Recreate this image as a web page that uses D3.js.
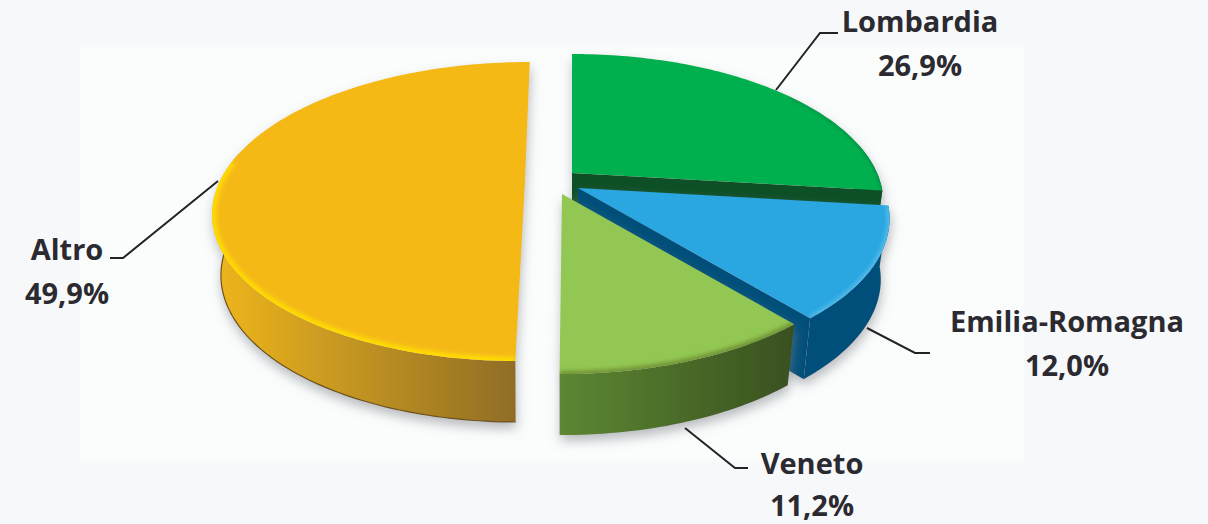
<!DOCTYPE html>
<html><head><meta charset="utf-8">
<script src="https://cdn.jsdelivr.net/npm/d3@7"></script>
<style>html,body{margin:0;padding:0;background:#f7f8fa;overflow:hidden}svg{display:block}
text{font-family:"Open Sans",Lato,sans-serif;font-weight:700;font-size:29px;fill:#2b2a30;text-anchor:middle}</style>
</head><body><svg id="c" width="1208" height="524"></svg>
<script>
const categories = ["Lombardia","Emilia-Romagna","Veneto","Altro"];
const shares = [26.9,12.0,11.2,49.9];
const shareLabels = ["26,9%","12,0%","11,2%","49,9%"];

const svg=d3.select("#c");
const defs=svg.append("defs");
// layout of the exploded slices
const centers=[{x:572,y:173,tilt:0},{x:578,y:188,tilt:0},{x:562,y:194,tilt:0},{x:525,y:181,tilt:5.75}];
const rx=305, ry=143.3, persp=0.204, depth=61, shrink=0.972;
const style=[
 {top:"#00b04f",wall:"#0a4f25",side:["#0a4f25","#0a4f25"],rim:"#0a7a3c",rimW:2,rimFrom:0.6},
 {top:"#29a6e0",wall:"#00507a",side:["#00507a","#00507a"],rim:"#58bdea",rimW:5,rimFrom:1},
 {top:"#92c753",wall:"#3e5a20",side:["#5d8733","#39501f"],rim:"#6f8f35",rimW:6,rimFrom:1},
 {top:"#f5b918",wall:"#8f6b25",side:["#efb61d","#8b6a26"],rim:"#ffdd00",rimW:8,rimFrom:0.15}
];
const leaders=[
 [[776,90],[820,33],[838,33]],
 [[867,328],[915,353],[930,353]],
 [[685,428],[735,468],[748,468]],
 [[218,181],[123,258],[110,258]]
];
const labelPos=[{x:920,y:32,gap:44},{x:1067,y:332,gap:44},{x:812,y:474,gap:42},{x:67,y:260,gap:44}];

// background panel
const f0=defs.append("filter").attr("id","soft").attr("x","-5%").attr("y","-5%").attr("width","110%").attr("height","110%");
f0.append("feGaussianBlur").attr("stdDeviation",1);
svg.append("rect").attr("x",80).attr("y",45).attr("width",944).attr("height",416).attr("fill","#fbfdfd").attr("filter","url(#soft)");

const sh=defs.append("filter").attr("id","shadow").attr("x","-15%").attr("y","-15%").attr("width","130%").attr("height","130%");
sh.append("feDropShadow").attr("dx",1).attr("dy",6).attr("stdDeviation",6).attr("flood-color","#7f8488").attr("flood-opacity",0.55);
const bl=defs.append("filter").attr("id","rimblur").attr("x","-10%").attr("y","-10%").attr("width","120%").attr("height","120%");
bl.append("feGaussianBlur").attr("stdDeviation",2);

const pie=d3.pie().sort(null).value(d=>d);
const arcs=pie(shares);
const line=d3.line();

function project(c,t,k=1,dy=0){
  const X=Math.sin(t),Z=Math.cos(t),w=1+persp*Z;
  return [c.x+(rx*X/w+c.tilt*Z/w)*k, c.y-ry*Z/w+dy];
}
function samples(a){
  const n=Math.max(8,Math.ceil((a.endAngle-a.startAngle)/0.02));
  return d3.range(n+1).map(i=>a.startAngle+(a.endAngle-a.startAngle)*i/n);
}

arcs.forEach((a,i)=>{
  const c=centers[i],s=style[i],ts=samples(a);
  const g=svg.append("g").attr("filter","url(#shadow)");
  const gid="sideGrad"+i;
  const topArc=ts.map(t=>project(c,t));
  const sideTs=ts.filter(t=>Math.cos(t)<0.2);
  const sideTop=sideTs.map(t=>project(c,t));
  const sideBot=sideTs.map(t=>project(c,t,shrink,depth)).reverse();
  const xs=topArc.map(p=>p[0]);
  const lg=defs.append("linearGradient").attr("id",gid).attr("gradientUnits","userSpaceOnUse")
    .attr("x1",d3.min(xs)).attr("x2",d3.max(xs)).attr("y1",0).attr("y2",0);
  lg.append("stop").attr("offset",0).attr("stop-color",s.side[0]);
  lg.append("stop").attr("offset",1).attr("stop-color",s.side[1]);
  const apex=[c.x,c.y];
  const endPt=project(c,a.endAngle);
  const endBot=project(c,a.endAngle,shrink,depth);
  // cut wall along the slice's clockwise edge, partly hidden by the next slice
  if(i<2) g.append("path").attr("d",line([apex,endPt,endBot,[apex[0],apex[1]+depth]])+"Z").attr("fill",s.wall);
  // outer side
  g.append("path").attr("d",line(sideTop.concat(sideBot))+"Z").attr("fill",`url(#${gid})`);
  if(i===3) g.append("path").attr("d",line(sideBot)).attr("fill","none").attr("stroke","#6d5218").attr("stroke-width",1.2);
  // top face
  const face=line([apex].concat(topArc))+"Z";
  g.append("path").attr("d",face).attr("fill",s.top);
  const cid="clipTop"+i;
  defs.append("clipPath").attr("id",cid).append("path").attr("d",face);
  const rimArc=ts.filter(t=>Math.cos(t)<s.rimFrom).map(t=>project(c,t));
  g.append("g").attr("clip-path",`url(#${cid})`)
   .append("path").attr("d",line(rimArc)).attr("fill","none").attr("stroke",s.rim).attr("stroke-width",s.rimW).attr("filter","url(#rimblur)");
});

// leaders
svg.append("g").selectAll("path").data(leaders).join("path")
  .attr("d",d=>line(d)).attr("fill","none").attr("stroke","#232327").attr("stroke-width",2);

// labels
const lab=svg.append("g").selectAll("g").data(categories).join("g");
lab.append("text").attr("x",(d,i)=>labelPos[i].x).attr("y",(d,i)=>labelPos[i].y).text(d=>d);
lab.append("text").attr("x",(d,i)=>labelPos[i].x).attr("y",(d,i)=>labelPos[i].y+labelPos[i].gap).text((d,i)=>shareLabels[i]);
</script></body></html>
